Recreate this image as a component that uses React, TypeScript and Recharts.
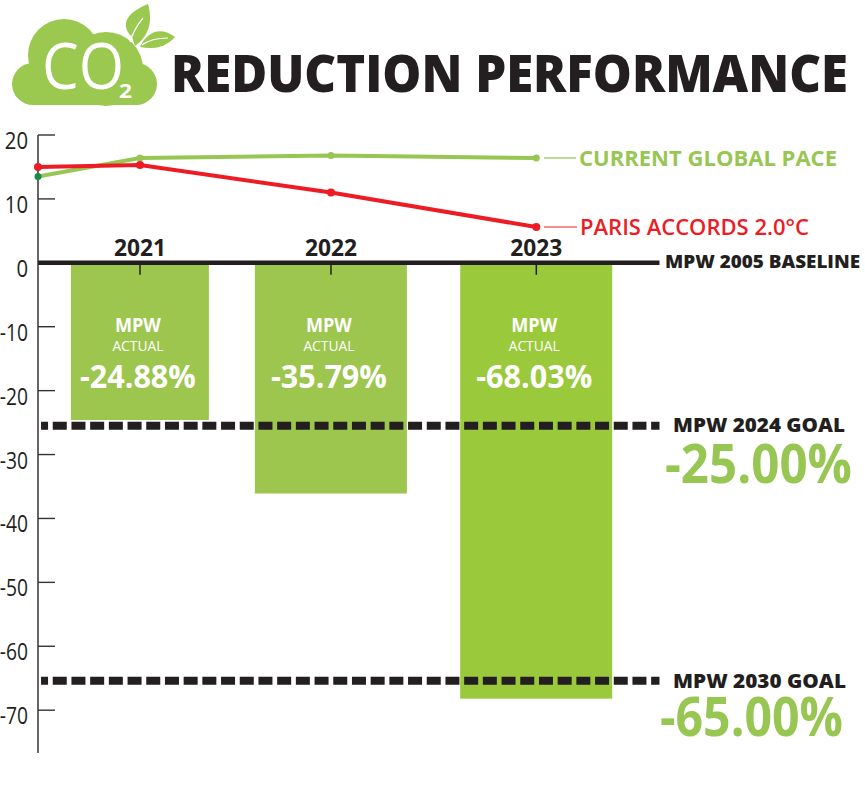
import React from 'react';
import { ComposedChart, Bar, Line, XAxis, YAxis, ReferenceLine } from 'recharts';

// x slots are read off the picture: the original spacing is not quite even
const slots = [2020.466, 2021, 2022, 2023.075];
const yearLabels = [null, '2021', '2022', '2023'];
const barValues = [null, -24.6, -36.1, -68.2];
const actualLabels = [null, '-24.88%', '-35.79%', '-68.03%'];
const globalPace = [13.5, 16.4, 16.8, 16.4];
const parisAccords = [15, 15.3, 11, 5.6];
const yTicks = [20, 10, 0, -10, -20, -30, -40, -50, -60, -70];
const goal2024 = -25.5;
const goal2030 = -65.4;

const barWidths = [0, 138, 152, 152];
const barColors = ['', '#9cc64e', '#9cc64e', '#9aca3c'];

const chartData = slots.map((slot, i) => ({
  slot,
  year: yearLabels[i],
  bar: barValues[i],
  actual: actualLabels[i],
  pace: globalPace[i],
  paris: parisAccords[i],
  zero: yearLabels[i] ? 0 : null,
  idx: i,
}));

const FONT = '"Open Sans", sans-serif';
const DARK = '#231f20';
const GREEN = '#97c653';
const RED = '#ed1c24';

const Txt = ({ x, y, size, w, color = DARK, weight = 700, anchor = 'start', children }: any) => (
  <text
    x={x}
    y={y}
    fontFamily={FONT}
    fontSize={size}
    fontWeight={weight}
    fill={color}
    textAnchor={anchor}
    textLength={w}
    lengthAdjust="spacingAndGlyphs"
  >
    {children}
  </text>
);

const YTick = ({ x, y, payload }: any) => {
  const v = payload.value;
  const w = String(Math.abs(v)).length * 11.6 + (v < 0 ? 5 : 0);
  return (
    <g>
      {v !== 0 && <line x1={x} x2={x + 17} y1={y} y2={y} stroke="#333" strokeWidth={1.4} />}
      <Txt x={x - 10} y={y + 14} size={23} w={w} weight={400} anchor="end">
        {v}
      </Txt>
    </g>
  );
};

const BarWithLabels = (props: any) => {
  const { x, y, width, height, payload } = props;
  // negative values come through with a negative height
  const top = Math.min(y, y + height);
  const h = Math.abs(height);
  const w = barWidths[payload.idx];
  const cx = x + width / 2;
  const tx = cx - 2;
  return (
    <g>
      <rect x={cx - w / 2} y={top} width={w} height={h} fill={barColors[payload.idx]} />
      <Txt x={tx} y={top + 69} size={19} color="#fff" anchor="middle" w={46}>MPW</Txt>
      <Txt x={tx} y={top + 88} size={14} color="#fff" weight={400} anchor="middle" w={51}>ACTUAL</Txt>
      <Txt x={tx} y={top + 125} size={33} color="#fff" anchor="middle" w={116}>{payload.actual}</Txt>
    </g>
  );
};

const YearDot = (props: any) => {
  const { cx, cy, payload } = props;
  if (!payload.year) return <g key="none" />;
  return (
    <g key={payload.year}>
      <line x1={cx} x2={cx} y1={cy} y2={cy + 12} stroke={DARK} strokeWidth={1.5} />
      <Txt x={cx} y={cy - 7} size={23} anchor="middle" w={52}>{payload.year}</Txt>
    </g>
  );
};

const PaceDot = (props: any) => (
  <circle key={props.index} cx={props.cx} cy={props.cy} r={3.5} fill={props.index === 0 ? '#1a8a4a' : GREEN} />
);

const Logo = () => (
  <g>
    <g fill="#9bc84e">
      <circle cx={33} cy={84} r={21} />
      <circle cx={64} cy={55} r={36} />
      <circle cx={106} cy={69} r={37} />
      <circle cx={136} cy={84} r={21} />
      <rect x={33} y={72} width={103} height={33} />
      <path d="M132 37 C119 24 128 12 148 4 C153 22 149 36 135 46 Z" />
      <path d="M140 47 C147 32 160 26 175 37 C166 47 154 50 140 47 Z" />
    </g>
    <path d="M130 42 C133 32 138 24 143 18" stroke="#fff" strokeWidth={1.2} fill="none" />
    <path d="M142 45 C150 39 158 38 168 38" stroke="#fff" strokeWidth={1.2} fill="none" />
    <Txt x={42} y={89} size={64} color="#fff" weight={500} w={82}>CO</Txt>
    <Txt x={119} y={98} size={19} color="#fff" w={13}>2</Txt>
  </g>
);

const Overlay = () => (
  <svg width={865} height={787} style={{ position: 'absolute', left: 0, top: 0, pointerEvents: 'none' }}>
    <Logo />
    <Txt x={171} y={92} size={51} weight={800} w={677}>REDUCTION PERFORMANCE</Txt>

    <line x1={544} x2={576} y1={158} y2={158} stroke={GREEN} strokeWidth={1.2} />
    <Txt x={579} y={166} size={21} color={GREEN} w={258}>CURRENT GLOBAL PACE</Txt>
    <line x1={544} x2={577} y1={227} y2={227} stroke={RED} strokeWidth={1.2} />
    <Txt x={580} y={235} size={22} color={RED} weight={600} w={229}>PARIS ACCORDS 2.0°C</Txt>

    <Txt x={665} y={268} size={17} weight={800} w={195}>MPW 2005 BASELINE</Txt>
    <Txt x={673} y={432} size={20} weight={800} w={172}>MPW 2024 GOAL</Txt>
    <Txt x={665} y={483} size={54} color={GREEN} w={187}>-25.00%</Txt>
    <Txt x={673} y={688} size={20} weight={800} w={173}>MPW 2030 GOAL</Txt>
    <Txt x={660} y={736} size={54} color={GREEN} w={183}>-65.00%</Txt>
  </svg>
);

const App = () => {
  const xStart = slots[0];
  const xGoalStart = 2020.482;
  const xEnd = 2023.72;
  return (
    <div style={{ position: 'absolute', left: 0, top: 0, width: 865, height: 787, background: '#fff' }}>
      <ComposedChart
        width={865}
        height={787}
        data={chartData}
        margin={{ top: 135, right: 0, bottom: 34, left: 0 }}
      >
        <XAxis dataKey="slot" type="number" scale="linear" domain={[xStart, 2024.796]} hide />
        <YAxis
          type="number"
          width={38}
          domain={[-76.7, 20]}
          ticks={yTicks}
          interval={0}
          tick={YTick}
          tickLine={false}
          tickSize={0}
          tickMargin={0}
          axisLine={{ stroke: '#333', strokeWidth: 1.5 }}
        />
        <Bar dataKey="bar" barSize={152} shape={BarWithLabels} isAnimationActive={false} />
        <ReferenceLine
          segment={[{ x: xStart, y: 0 }, { x: xEnd, y: 0 }]}
          stroke={DARK}
          strokeWidth={4.5}
        />
        <ReferenceLine
          segment={[{ x: xGoalStart, y: goal2024 }, { x: xEnd, y: goal2024 }]}
          stroke={DARK}
          strokeWidth={8}
          strokeDasharray="14 4.7"
          strokeDashoffset={7}
        />
        <ReferenceLine
          segment={[{ x: xGoalStart, y: goal2030 }, { x: xEnd, y: goal2030 }]}
          stroke={DARK}
          strokeWidth={8}
          strokeDasharray="14 4.7"
          strokeDashoffset={7}
        />
        <Line dataKey="zero" stroke="none" dot={YearDot} isAnimationActive={false} />
        <Line dataKey="pace" stroke={GREEN} strokeWidth={4} dot={PaceDot} isAnimationActive={false} />
        <Line
          dataKey="paris"
          stroke={RED}
          strokeWidth={4}
          dot={{ r: 4, fill: RED, stroke: 'none' }}
          isAnimationActive={false}
        />
      </ComposedChart>
      <Overlay />
    </div>
  );
};

export default App;
